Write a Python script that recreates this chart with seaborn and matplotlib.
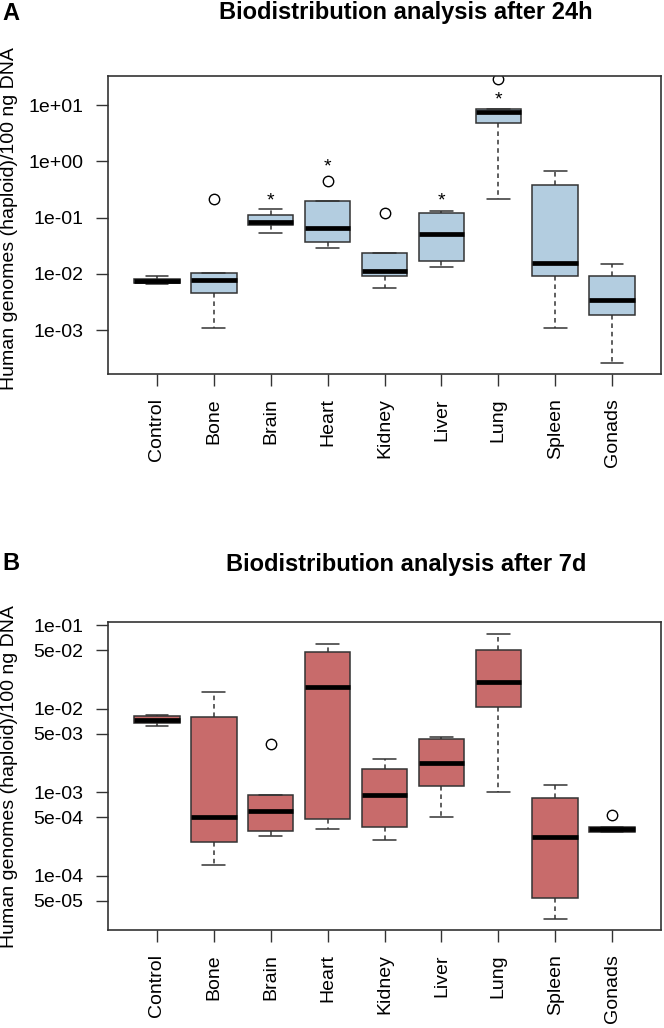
import numpy as np
import pandas as pd
import matplotlib
matplotlib.use('Agg')
import matplotlib.pyplot as plt
import seaborn as sns

sns.set_style('white')
plt.rcParams['font.family'] = ['Liberation Sans', 'DejaVu Sans']
plt.rcParams['text.color'] = 'black'
plt.rcParams['xtick.color'] = 'black'
plt.rcParams['ytick.color'] = 'black'

organs = ['Control', 'Bone', 'Brain', 'Heart', 'Kidney', 'Liver', 'Lung', 'Spleen', 'Gonads']

# panel A, 24h: whisker ends, quartiles, medians, outliers
a_low = [0.0067, 0.00111, 0.0527, 0.0293, 0.00564, 0.0135, 0.214, 0.00111, 0.000267]
a_q1 = [0.0069, 0.00467, 0.0731, 0.0365, 0.00933, 0.01725, 4.73, 0.0092, 0.001845]
a_med = [0.0076, 0.00782, 0.0826, 0.0664, 0.01115, 0.0506, 7.41, 0.01545, 0.00345]
a_q3 = [0.0082, 0.01056, 0.113, 0.200, 0.0233, 0.1227, 8.37, 0.380, 0.00933]
a_high = [0.0093, 0.01056, 0.1406, 0.200, 0.0233, 0.133, 8.37, 0.673, 0.01524]
a_out = [None, 0.214, None, 0.454, 0.119, None, 29.0, None, None]
a_stars = {'Brain': 0.20, 'Heart': 0.80, 'Liver': 0.20, 'Lung': 12.5}

# panel B, 7d
b_low = [0.00615, 0.000135, 0.000296, 0.000362, 0.000265, 0.0005, 0.000996, 3.05e-05, 0.00033]
b_q1 = [0.00675, 0.000251, 0.000346, 0.000473, 0.000383, 0.001186, 0.0105, 5.44e-05, 0.000336]
b_med = [0.00733, 0.0005, 0.000601, 0.01823, 0.000917, 0.00224, 0.02114, 0.000288, 0.000362]
b_q3 = [0.00818, 0.00796, 0.000917, 0.0479, 0.00191, 0.00431, 0.0506, 0.000859, 0.000383]
b_high = [0.00841, 0.01603, 0.000917, 0.0603, 0.00248, 0.00459, 0.0787, 0.00123, 0.000385]
b_out = [None, None, 0.00382, None, None, None, None, None, 0.000533]

a_ticks = [1e-3, 1e-2, 1e-1, 1e0, 1e1]
a_ticklabels = ['1e-03', '1e-02', '1e-01', '1e+00', '1e+01']
b_ticks = [5e-5, 1e-4, 5e-4, 1e-3, 5e-3, 1e-2, 5e-2, 1e-1]
b_ticklabels = ['5e-05', '1e-04', '5e-04', '1e-03', '5e-03', '1e-02', '5e-02', '1e-01']


def long_table(low, q1, med, q3, high, out):
    # 9 values per organ so that the quartiles land exactly on the read values
    rows = []
    for i, org in enumerate(organs):
        last = high[i] if out[i] is None else out[i]
        vals = [low[i], q1[i], q1[i], med[i], med[i], med[i], q3[i], high[i], last]
        rows += [(org, v) for v in vals]
    return pd.DataFrame(rows, columns=['organ', 'value'])


df_a = long_table(a_low, a_q1, a_med, a_q3, a_high, a_out)
df_b = long_table(b_low, b_q1, b_med, b_q3, b_high, b_out)

W, H = 664, 1028
fig = plt.figure(figsize=(W / 100, H / 100), dpi=100)
ax_a = fig.add_axes([108 / W, 1 - 374 / H, 553 / W, 298 / H])
ax_b = fig.add_axes([108 / W, 1 - 930 / H, 553 / W, 308 / H])

edge = '#333333'


def draw(ax, df, color, ticks, ticklabels, ylim):
    sns.boxplot(data=df, x='organ', y='value', order=organs, ax=ax,
                color=color, saturation=1, width=0.8, whis=1.5,
                linecolor=edge, linewidth=1.1,
                medianprops={'color': 'black', 'linewidth': 3.4},
                whiskerprops={'linestyle': (0, (3, 2.5)), 'color': edge},
                capprops={'linestyle': '-', 'color': edge},
                flierprops={'marker': 'o', 'markerfacecolor': 'none',
                            'markeredgecolor': 'black', 'markersize': 7.5,
                            'markeredgewidth': 1})
    ax.set_yscale('log')
    ax.set_ylim(*ylim)
    ax.set_xlim(-0.86, 8.86)
    ax.set_yticks(ticks)
    ax.set_yticklabels(ticklabels)
    ax.minorticks_off()
    ax.set_xlabel('')
    ax.set_ylabel('')
    ax.tick_params(axis='x', rotation=90, labelsize=14, length=8.5, width=1, color=edge, pad=9)
    ax.tick_params(axis='y', labelsize=14, length=8.5, width=1, color=edge, pad=9)
    ax.tick_params(bottom=True, left=True, labelcolor='black')
    for s in ax.spines.values():
        s.set_visible(True)
        s.set_color(edge)
        s.set_linewidth(1.2)


draw(ax_a, df_a, '#b3cde0', a_ticks, a_ticklabels, (10 ** -3.776, 10 ** 1.515))
draw(ax_b, df_b, '#c86b6b', b_ticks, b_ticklabels, (10 ** -4.652, 10 ** -0.96))

# significance stars
for org, yv in a_stars.items():
    ax_a.text(organs.index(org), yv, '*', ha='center', va='center', fontsize=14, color='black')

# titles, panel letters, y labels
fig.text(406 / W, 1 - 13 / H, 'Biodistribution analysis after 24h',
         ha='center', va='center', fontsize=17, fontweight='bold', color='black')
fig.text(406 / W, 1 - 565 / H, 'Biodistribution analysis after 7d',
         ha='center', va='center', fontsize=17, fontweight='bold', color='black')
fig.text(11 / W, 1 - 13 / H, 'A', ha='center', va='center', fontsize=17, fontweight='bold', color='black')
fig.text(11 / W, 1 - 563 / H, 'B', ha='center', va='center', fontsize=17, fontweight='bold', color='black')
ylab = 'Human genomes (haploid)/100 ng DNA'
fig.text(10 / W, 1 - 219 / H, ylab, rotation=90, ha='center', va='center', fontsize=14, color='black')
fig.text(10 / W, 1 - 777 / H, ylab, rotation=90, ha='center', va='center', fontsize=14, color='black')

plt.savefig('out.png', dpi=100)
